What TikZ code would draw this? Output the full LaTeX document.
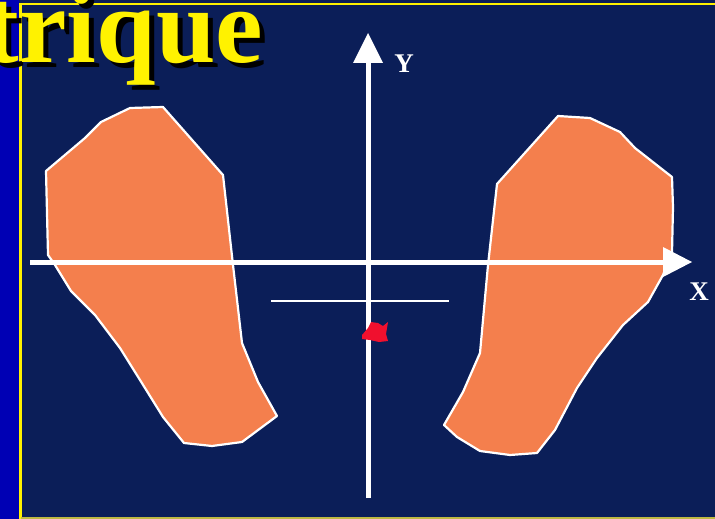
\documentclass[tikz,border=0pt]{standalone}
\usepackage{fontspec}
\setmainfont{Liberation Serif}
\definecolor{navy}{HTML}{0B1E58}
\definecolor{strip}{HTML}{0000B4}
\definecolor{blob}{HTML}{F47F4D}
\definecolor{redmark}{HTML}{F0102E}
\begin{document}
\begin{tikzpicture}[x=1pt,y=-1pt,
  lobe/.style={fill=blob,draw=white,line width=2.2pt,line join=round},
  axis/.style={draw=white,line width=5pt},
  tip/.style={fill=white},
  axlabel/.style={text=white,font=\bfseries\fontsize{27}{27}\selectfont,inner sep=0pt},
  titletext/.style={font=\bfseries\fontsize{107}{107}\selectfont,inner sep=0pt,outer sep=0pt}]
\useasboundingbox (0,0) rectangle (715,519);
% background
\fill[navy] (0,0) rectangle (715,519);
\fill[strip] (0,0) rectangle (19,519);
\fill[yellow] (19,3) rectangle (715,5);
\fill[yellow] (19,3) rectangle (21.5,519);
\fill[yellow!70!navy] (21,516.5) rectangle (715,519);
% title with shadow
\node[titletext,text=black,anchor=base east] at (268,68) {\'etrique};
\node[titletext,text=yellow,anchor=base east] (title) at (263,63) {\'etrique};
% left shape
\path[lobe] (46,171) -- (85,138) -- (101,122) -- (130,108) -- (163,107) -- (223,175)
  -- (233,265) -- (242,343) -- (258,382) -- (277,416) -- (242,442) -- (212,446)
  -- (184,443) -- (163,417) -- (140,380) -- (120,348) -- (95,315) -- (71,291)
  -- (55,265) -- (48,255) -- cycle;
% right shape
\path[lobe] (497,184) -- (558,116) -- (590,118) -- (620,132) -- (635,148) -- (672,177)
  -- (673,207) -- (672,253) -- (663,275) -- (648,302) -- (623,325) -- (597,358)
  -- (577,388) -- (555,430) -- (537,453) -- (510,455) -- (480,451) -- (457,437)
  -- (444,425) -- (463,392) -- (480,353) -- (488,265) -- cycle;
% axes
\coordinate (xs) at (30,262);
\coordinate (xb) at (664,262);
\coordinate (xt) at (692,262);
\coordinate (ys) at (368,498);
\coordinate (yb) at (368,62);
\coordinate (yt) at (368,33);
\draw[axis] (xs) -- (xb);
\fill[tip] (xt) -- (663,247) -- (663,277) -- cycle;
\draw[axis] (ys) -- (yb);
\fill[tip] (yt) -- (353,63) -- (383,63) -- cycle;
\node[axlabel] (ylab) at (404,64) {Y};
\node[axlabel] (xlab) at (699,292) {X};
% thin line
\coordinate (ta) at (271,301);
\coordinate (tb) at (449,301);
\draw[white,line width=2pt] (ta) -- (tb);
% red mark
\fill[redmark] (362,335) -- (368,328) -- (371,322) -- (378,323) -- (383,326) -- (388,322)
  -- (386,334) -- (388,341) -- (379,342) -- (370,340) -- (362,339) -- cycle;
\end{tikzpicture}
\end{document}
